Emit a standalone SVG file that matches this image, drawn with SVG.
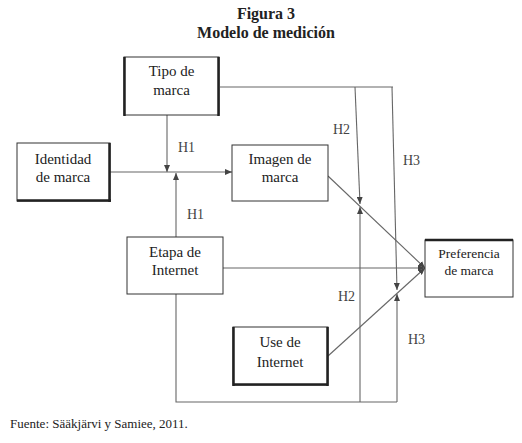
<svg xmlns="http://www.w3.org/2000/svg" width="522" height="443" viewBox="0 0 522 443">
<defs>
<style>
text{font-family:"Liberation Serif","Times New Roman",Times,"Nimbus Roman","DejaVu Serif",serif}
.t{fill:#222;text-anchor:middle}
.b{font-size:15px}
.h{font-size:14px;fill:#444;text-anchor:start}
.box{fill:#fff;stroke:#333;stroke-width:1}
.thk{stroke:#222;stroke-width:2.5;fill:none}
.ln{stroke:#666;stroke-width:1.1;fill:none}
</style>
<marker id="ar" markerWidth="7" markerHeight="6" refX="7" refY="3" orient="auto" markerUnits="userSpaceOnUse">
<path d="M0,0 L7,3 L0,6 z" fill="#444"/>
</marker>
</defs>
<rect width="522" height="443" fill="#fff"/>
<g id="title">
<text class="t" x="266" y="19" font-size="16" font-weight="bold">Figura 3</text>
<text class="t" x="266" y="38" font-size="16" font-weight="bold">Modelo de medición</text>
</g>
<g id="connectors">
<path class="ln" d="M220,87 H393"/>
<path class="ln" d="M355,87 L360,204" marker-end="url(#ar)"/>
<path class="ln" d="M392,87 L397,290" marker-end="url(#ar)"/>
<path class="ln" d="M167,115 V172" marker-end="url(#ar)"/>
<path class="ln" d="M110,172 H232" marker-end="url(#ar)"/>
<path class="ln" d="M176,237 V173" marker-end="url(#ar)"/>
<path class="ln" d="M328,176 L425,268" marker-end="url(#ar)"/>
<path class="ln" d="M223,268 H425" marker-end="url(#ar)"/>
<path class="ln" d="M328,356 L425,268" marker-end="url(#ar)"/>
<path class="ln" d="M176,294 V402 H397"/>
<path class="ln" d="M360,402 V207" marker-end="url(#ar)"/>
<path class="ln" d="M397,402 V294" marker-end="url(#ar)"/>
</g>
<g id="labels">
<text class="t h" x="178" y="152">H1</text>
<text class="t h" x="187" y="219">H1</text>
<text class="t h" x="333" y="134">H2</text>
<text class="t h" x="403" y="165">H3</text>
<text class="t h" x="338" y="301">H2</text>
<text class="t h" x="408" y="344">H3</text>
</g>
<g id="tipo">
<rect class="box" x="124" y="57" width="95" height="58"/>
<path class="thk" d="M124.5,57 V116 M218.5,57 V116"/>
<text class="t b" x="171.5" y="76">Tipo de</text>
<text class="t b" x="171.5" y="95">marca</text>
</g>
<g id="identidad">
<rect class="box" x="17" y="143" width="93" height="58"/>
<path class="thk" d="M109.5,143 V202 M17,200.5 H111"/>
<text class="t b" x="63" y="164">Identidad</text>
<text class="t b" x="63" y="182">de marca</text>
</g>
<g id="imagen">
<rect class="box" x="232" y="145" width="96" height="56"/>
<text class="t b" x="280" y="164">Imagen de</text>
<text class="t b" x="280" y="182">marca</text>
</g>
<g id="etapa">
<rect class="box" x="127" y="237" width="96" height="57"/>
<text class="t b" x="175" y="257">Etapa de</text>
<text class="t b" x="175" y="275">Internet</text>
</g>
<g id="preferencia">
<rect class="box" x="425" y="240" width="88" height="57"/>
<path class="thk" d="M425,240 H513"/>
<text class="t" x="469" y="258" font-size="13.5">Preferencia</text>
<text class="t" x="469" y="275" font-size="13.5">de marca</text>
</g>
<g id="use">
<rect class="box" x="233" y="327" width="95" height="58"/>
<path class="thk" d="M233.5,327 V386 M327.5,327 V386 M233,384.5 H328"/>
<text class="t b" x="280" y="347">Use de</text>
<text class="t b" x="280" y="367">Internet</text>
</g>
<g id="source">
<text class="t" x="10" y="428" font-size="13" style="text-anchor:start">Fuente: Sääkjärvi y Samiee, 2011.</text>
</g>
</svg>
